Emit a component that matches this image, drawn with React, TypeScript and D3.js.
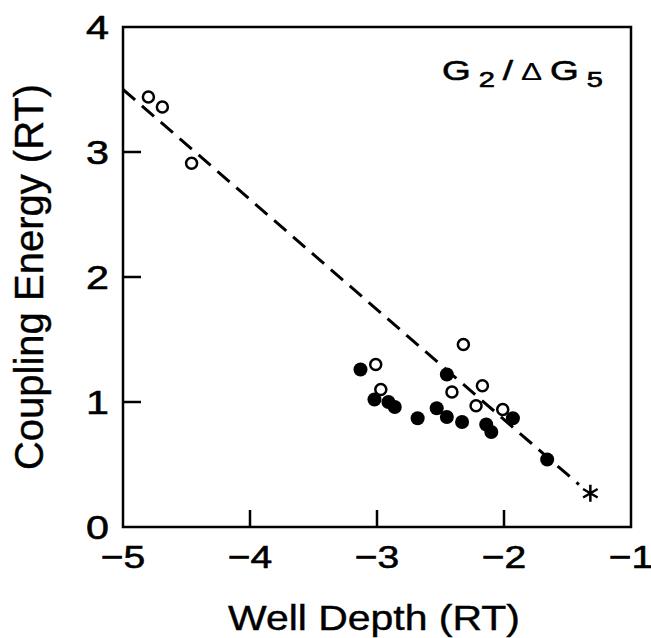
import React, { useEffect, useRef } from "react";
import * as d3 from "d3";

// values
const openX = [-4.8, -4.69, -4.46, -3.01, -2.97, -2.41, -2.32, -2.17, -2.22, -2.01];
const openY = [3.44, 3.36, 2.91, 1.3, 1.1, 1.08, 1.46, 1.13, 0.97, 0.94];
const filledX = [-3.13, -3.02, -2.91, -2.86, -2.68, -2.53, -2.45, -2.45, -2.33, -2.14, -2.1, -1.93, -1.66];
const filledY = [1.26, 1.02, 1.0, 0.96, 0.87, 0.95, 0.88, 1.22, 0.84, 0.82, 0.76, 0.87, 0.54];
const fitX = [-5, -1.41];
const fitY = [3.5, 0.34];
const starX = [-1.32];
const starY = [0.27];
const xTicks = [-5, -4, -3, -2, -1];
const yTicks = [0, 1, 2, 3, 4];

const FONT = "'Liberation Sans', Arial, Helvetica, sans-serif";

export default function App() {
  const ref = useRef<SVGSVGElement>(null);

  useEffect(() => {
    const svg = d3.select(ref.current);
    svg.selectAll("*").remove();

    const width = 651;
    const height = 638;
    const x = d3.scaleLinear().domain([-5, -1]).range([123, 631]);
    const y = d3.scaleLinear().domain([0, 4]).range([527, 27]);

    svg.attr("width", width).attr("height", height);

    // frame
    svg.append("rect")
      .attr("x", x(-5)).attr("y", y(4))
      .attr("width", x(-1) - x(-5)).attr("height", y(0) - y(4))
      .attr("fill", "none").attr("stroke", "#000").attr("stroke-width", 2.5);

    // inner ticks
    svg.selectAll(".xtick").data(xTicks.slice(1, -1)).join("line")
      .attr("x1", d => x(d)).attr("x2", d => x(d))
      .attr("y1", y(0)).attr("y2", y(0) - 17)
      .attr("stroke", "#000").attr("stroke-width", 2.5);
    svg.selectAll(".ytick").data(yTicks.slice(1, -1)).join("line")
      .attr("y1", d => y(d)).attr("y2", d => y(d))
      .attr("x1", x(-5)).attr("x2", x(-5) + 18)
      .attr("stroke", "#000").attr("stroke-width", 2.5);

    // tick labels (the original lettering is wide, so stretch it sideways)
    svg.append("g").selectAll("text").data(xTicks).join("text")
      .attr("transform", d => `translate(${x(d)},568) scale(1.22,1)`)
      .attr("text-anchor", "middle")
      .attr("stroke", "#000").attr("stroke-width", 0.6)
      .style("font-family", FONT).style("font-size", "32px")
      .text(d => "\u2212" + Math.abs(d));
    svg.append("g").selectAll("text").data(yTicks).join("text")
      .attr("transform", d => `translate(109,${y(d) + 12}) scale(1.25,1)`)
      .attr("text-anchor", "end")
      .attr("stroke", "#000").attr("stroke-width", 0.6)
      .style("font-family", FONT).style("font-size", "33px")
      .text(d => d);

    // axis titles
    svg.append("text")
      .attr("transform", "translate(374,630) scale(1.17,1)")
      .attr("text-anchor", "middle")
      .attr("stroke", "#000").attr("stroke-width", 0.4)
      .style("font-family", FONT).style("font-size", "35px")
      .text("Well Depth (RT)");
    svg.append("text")
      .attr("transform", "translate(43, 277) rotate(-90)")
      .attr("text-anchor", "middle")
      .attr("stroke", "#000").attr("stroke-width", 0.4)
      .style("font-family", FONT).style("font-size", "40px")
      .text("Coupling Energy (RT)");

    // panel label
    const lab = svg.append("text")
      .attr("transform", "translate(442,80) scale(1.32,1)")
      .attr("stroke", "#000").attr("stroke-width", 0.6)
      .attr("font-family", FONT).attr("font-size", 28).attr("letter-spacing", 6);
    lab.append("tspan").text("G");
    lab.append("tspan").attr("dy", 7).attr("font-size", 22).text("2");
    lab.append("tspan").attr("dy", -7).text("/");
    lab.append("tspan").attr("font-size", 24).attr("stroke-width", 0.1).text("\u0394");
    lab.append("tspan").text("G");
    lab.append("tspan").attr("dy", 7).attr("font-size", 22).text("5");

    // dashed fit line
    const line = d3.line<number>().x(d => x(fitX[d])).y(d => y(fitY[d]));
    svg.append("path")
      .attr("d", line(d3.range(fitX.length)))
      .attr("fill", "none").attr("stroke", "#000")
      .attr("stroke-width", 3).attr("stroke-dasharray", "16 9");

    // points
    svg.append("g").selectAll("circle").data(d3.range(filledX.length)).join("circle")
      .attr("cx", i => x(filledX[i])).attr("cy", i => y(filledY[i]))
      .attr("r", 7).attr("fill", "#000");
    svg.append("g").selectAll("circle").data(d3.range(openX.length)).join("circle")
      .attr("cx", i => x(openX[i])).attr("cy", i => y(openY[i]))
      .attr("r", 5.5).attr("fill", "#fff").attr("stroke", "#000").attr("stroke-width", 2.5);

    svg.append("g").selectAll("path").data(d3.range(starX.length)).join("path")
      .attr("transform", i => `translate(${x(starX[i])},${y(starY[i])})`)
      .attr("d", d3.symbol(d3.symbolAsterisk, 200)())
      .attr("fill", "none").attr("stroke", "#000").attr("stroke-width", 2.5);
  }, []);

  return (
    <svg ref={ref} style={{ position: "absolute", left: 0, top: 0, background: "#fff" }} />
  );
}
